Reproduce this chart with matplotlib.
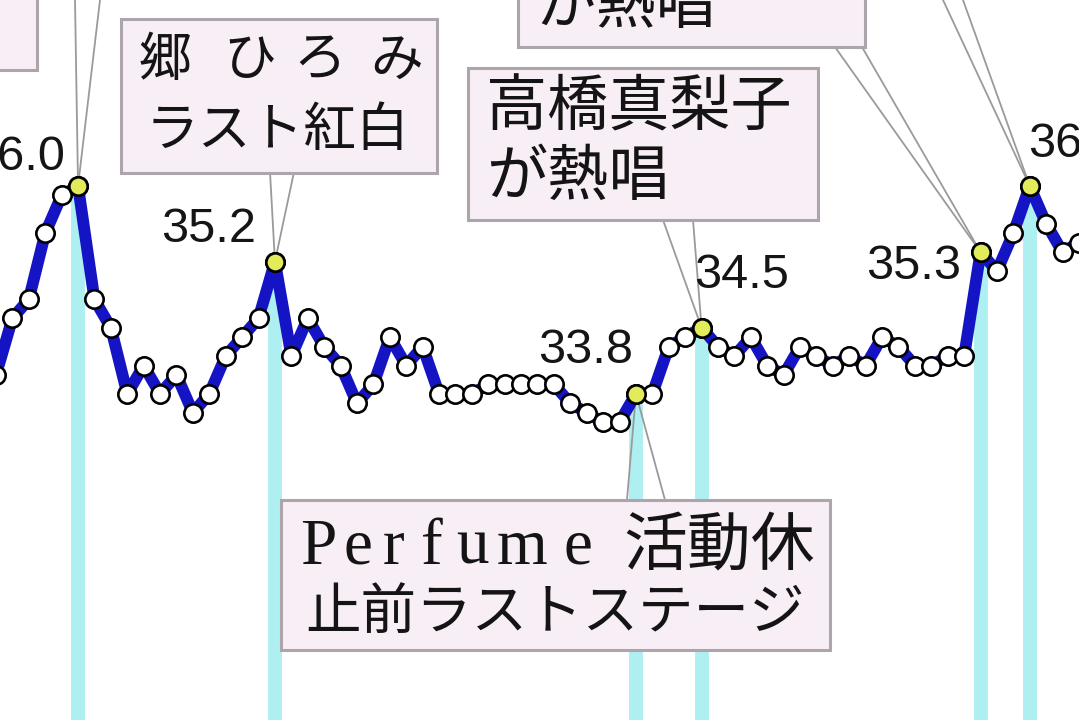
import matplotlib
matplotlib.use("Agg")
import matplotlib.pyplot as plt
from matplotlib.patches import Rectangle, ConnectionPatch
import numpy as np

# ---- data (minute-by-minute ratings, %) ----
ratings = [34.0, 34.6, 34.8, 35.5, 35.9, 36.0, 34.8, 34.5, 33.8, 34.1,
           33.8, 34.0, 33.6, 33.8, 34.2, 34.4, 34.6, 35.2, 34.2, 34.6,
           34.3, 34.1, 33.7, 33.9, 34.4, 34.1, 34.3, 33.8, 33.8, 33.8,
           33.9, 33.9, 33.9, 33.9, 33.9, 33.7, 33.6, 33.5, 33.5, 33.8,
           33.8, 34.3, 34.4, 34.5, 34.3, 34.2, 34.4, 34.1, 34.0, 34.3,
           34.2, 34.1, 34.2, 34.1, 34.4, 34.3, 34.1, 34.1, 34.2, 34.2,
           35.3, 35.1, 35.5, 36.0, 35.6, 35.3, 35.4]
highlight_idx = [5, 17, 39, 43, 60, 63]

CJK = ["Noto Sans CJK JP", "DejaVu Sans"]
NUM = ["Liberation Sans", "DejaVu Sans"]
SERIF = ["Liberation Serif", "DejaVu Serif"]

W, H = 1079, 720
fig = plt.figure(figsize=(W / 100, H / 100), dpi=100)
fig.patch.set_facecolor("white")
ax = fig.add_axes([0, 0, 1, 1])
ax.axis("off")
ax.set_xlim(0.244, 66.0)
ax.set_ylim(30.349, 37.968)

x = np.arange(len(ratings))
y = np.array(ratings)
hx = np.array(highlight_idx)
hy = y[hx]

# cyan vertical guide lines from highlighted points down
ax.vlines(hx, ax.get_ylim()[0], hy, colors="#aef0f2", linewidth=10, zorder=1)

# thick blue line + markers
ax.plot(x, y, color="#1414c4", linewidth=8.5, zorder=3, solid_capstyle="round",
        solid_joinstyle="round")
ax.plot(x, y, linestyle="none", marker="o", markersize=13.2,
        markerfacecolor="white", markeredgecolor="black", markeredgewidth=1.9,
        zorder=4)
ax.plot(hx, hy, linestyle="none", marker="o", markersize=13.2,
        markerfacecolor="#e2ec5a", markeredgecolor="black", markeredgewidth=1.9,
        zorder=5)

# value labels (offsets in pixels)
label_offsets = {5: (-13, 28, "right"), 17: (-19, 32, "right"),
                 39: (-3, 43, "right"), 43: (-7, 52, "left"),
                 60: (-19, -14, "right"), 63: (-2, 41, "left")}
for i in highlight_idx:
    dx, dy, ha = label_offsets[i]
    ax.annotate(f"{ratings[i]:.1f}", (i, ratings[i]), xytext=(dx, dy),
                textcoords="offset pixels", ha=ha, va="center",
                fontsize=35, family=NUM, color="#151515", zorder=6)


def F(px, py):
    return (px / W, 1 - py / H)


def box(x0, y0, x1, y1):
    r = Rectangle(F(x0, y1), (x1 - x0) / W, (y1 - y0) / H,
                  transform=fig.transFigure, facecolor="#f8eef6",
                  edgecolor="#aca6ac", linewidth=2.2, zorder=7, clip_on=False)
    ax.add_artist(r)


def wedge(p1, p2, idx):
    for p in (p1, p2):
        con = ConnectionPatch(xyA=F(*p), coordsA=fig.transFigure,
                              xyB=(idx, ratings[idx]), coordsB=ax.transData,
                              color="#9a9a9a", linewidth=1.3, zorder=2.5,
                              shrinkA=0, shrinkB=4)
        ax.add_artist(con)


def txt(px, py, s, size, ha="left", va="center", family=CJK):
    ax.text(*F(px, py), s, transform=fig.transFigure, ha=ha, va=va,
            fontsize=size, family=family, color="#141414", zorder=8)


# connectors
wedge((75, 0), (100, 0), 5)
wedge((270, 172), (294, 172), 17)
wedge((663, 220), (693, 220), 43)
wedge((627, 500), (665, 500), 39)
wedge((835, 47), (862, 47), 60)
wedge((943, 0), (963, 0), 63)

# boxes
box(-10, -10, 37, 70)
box(121, 19, 437, 173)
box(518, -20, 865, 47)
box(468, 68, 818, 220)
box(281, 500, 830, 650)

# box texts
for ch, cx in zip("郷ひろみ", [165, 250, 320, 397]):
    txt(cx, 60, ch, 38, ha="center")
txt(277, 130, "ラスト紅白", 38, ha="center")
txt(536, 6, "が熱唱", 43)
txt(486, 108, "高橋真梨子", 44)
txt(486, 178, "が熱唱", 44)
for ch, cx in zip("Perfume", [318, 358, 394, 432, 472, 522, 578]):
    txt(cx, 564, ch, 47, ha="center", va="baseline", family=SERIF)
txt(815, 546, "活動休", 46, ha="right")
txt(555, 613, "止前ラストステージ", 40, ha="center")

fig.savefig("out.png", dpi=100, facecolor="white")
